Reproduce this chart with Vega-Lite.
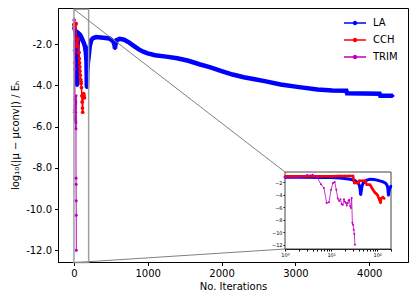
{
  "$schema": "https://vega.github.io/schema/vega-lite/v6.json",
  "width": 350,
  "height": 254,
  "autosize": "none",
  "padding": {"left": 58, "top": 8, "right": 8, "bottom": 40},
  "background": "white",
  "config": {
    "view": {"stroke": "black", "strokeWidth": 1},
    "font": "DejaVu Sans",
    "axis": {"grid": false, "domainColor": "black", "tickColor": "black", "labelColor": "black", "titleColor": "black", "labelFont": "DejaVu Sans", "titleFont": "DejaVu Sans", "labelFontSize": 10, "titleFontSize": 10, "titleFontWeight": "normal", "tickSize": 3.5, "labelPadding": 3, "domainWidth": 1, "tickWidth": 1}
  },
  "datasets": {
    "d": [
      {"s": "LA", "i": 1, "v": -1.2}, {"s": "LA", "i": 3, "v": -1.2}, {"s": "LA", "i": 6, "v": -1.22}, {"s": "LA", "i": 10, "v": -1.25}, {"s": "LA", "i": 16, "v": -1.3}, {"s": "LA", "i": 26, "v": -1.5}, {"s": "LA", "i": 33, "v": -1.75}, {"s": "LA", "i": 39, "v": -2.1}, {"s": "LA", "i": 42, "v": -2.7}, {"s": "LA", "i": 44, "v": -4.0}, {"s": "LA", "i": 47, "v": -2.6}, {"s": "LA", "i": 50, "v": -2.1}, {"s": "LA", "i": 58, "v": -1.7}, {"s": "LA", "i": 70, "v": -1.5}, {"s": "LA", "i": 85, "v": -1.55}, {"s": "LA", "i": 100, "v": -1.65}, {"s": "LA", "i": 130, "v": -1.9}, {"s": "LA", "i": 150, "v": -2.1}, {"s": "LA", "i": 162, "v": -2.4}, {"s": "LA", "i": 170, "v": -2.8}, {"s": "LA", "i": 176, "v": -4.1}, {"s": "LA", "i": 182, "v": -3.3}, {"s": "LA", "i": 190, "v": -2.9}, {"s": "LA", "i": 200, "v": -2.6}, {"s": "LA", "i": 215, "v": -2.1}, {"s": "LA", "i": 235, "v": -1.8}, {"s": "LA", "i": 260, "v": -1.7}, {"s": "LA", "i": 300, "v": -1.65}, {"s": "LA", "i": 400, "v": -1.68}, {"s": "LA", "i": 480, "v": -1.72}, {"s": "LA", "i": 530, "v": -1.85}, {"s": "LA", "i": 548, "v": -2.0}, {"s": "LA", "i": 556, "v": -2.2}, {"s": "LA", "i": 565, "v": -2.0}, {"s": "LA", "i": 580, "v": -1.8}, {"s": "LA", "i": 620, "v": -1.74}, {"s": "LA", "i": 680, "v": -1.78}, {"s": "LA", "i": 750, "v": -1.92}, {"s": "LA", "i": 820, "v": -2.1}, {"s": "LA", "i": 880, "v": -2.25}, {"s": "LA", "i": 940, "v": -2.36}, {"s": "LA", "i": 1000, "v": -2.44}, {"s": "LA", "i": 1100, "v": -2.53}, {"s": "LA", "i": 1250, "v": -2.6}, {"s": "LA", "i": 1400, "v": -2.68}, {"s": "LA", "i": 1550, "v": -2.8}, {"s": "LA", "i": 1700, "v": -2.97}, {"s": "LA", "i": 1850, "v": -3.12}, {"s": "LA", "i": 2000, "v": -3.3}, {"s": "LA", "i": 2150, "v": -3.47}, {"s": "LA", "i": 2300, "v": -3.6}, {"s": "LA", "i": 2450, "v": -3.7}, {"s": "LA", "i": 2600, "v": -3.8}, {"s": "LA", "i": 2800, "v": -3.95}, {"s": "LA", "i": 3050, "v": -4.08}, {"s": "LA", "i": 3300, "v": -4.2}, {"s": "LA", "i": 3500, "v": -4.25}, {"s": "LA", "i": 3690, "v": -4.26}, {"s": "LA", "i": 3700, "v": -4.38}, {"s": "LA", "i": 4140, "v": -4.4}, {"s": "LA", "i": 4150, "v": -4.5}, {"s": "LA", "i": 4320, "v": -4.5},
      {"s": "CCH", "i": 1, "v": -1.05}, {"s": "CCH", "i": 3, "v": -1.05}, {"s": "CCH", "i": 6, "v": -1.05}, {"s": "CCH", "i": 10, "v": -1.05}, {"s": "CCH", "i": 15, "v": -1.0}, {"s": "CCH", "i": 20, "v": -1.0}, {"s": "CCH", "i": 25, "v": -1.0}, {"s": "CCH", "i": 30, "v": -1.0}, {"s": "CCH", "i": 32, "v": -2.1}, {"s": "CCH", "i": 36, "v": -2.1}, {"s": "CCH", "i": 39, "v": -2.1}, {"s": "CCH", "i": 41, "v": -1.75}, {"s": "CCH", "i": 48, "v": -1.75}, {"s": "CCH", "i": 55, "v": -1.75}, {"s": "CCH", "i": 57, "v": -2.1}, {"s": "CCH", "i": 60, "v": -2.4}, {"s": "CCH", "i": 65, "v": -2.4}, {"s": "CCH", "i": 70, "v": -2.4}, {"s": "CCH", "i": 74, "v": -2.7}, {"s": "CCH", "i": 77, "v": -2.9}, {"s": "CCH", "i": 80, "v": -3.1}, {"s": "CCH", "i": 83, "v": -3.3}, {"s": "CCH", "i": 87, "v": -3.5}, {"s": "CCH", "i": 90, "v": -3.7}, {"s": "CCH", "i": 95, "v": -3.8}, {"s": "CCH", "i": 98, "v": -3.9}, {"s": "CCH", "i": 103, "v": -4.1}, {"s": "CCH", "i": 108, "v": -4.5}, {"s": "CCH", "i": 112, "v": -4.8}, {"s": "CCH", "i": 116, "v": -5.1}, {"s": "CCH", "i": 119, "v": -5.3}, {"s": "CCH", "i": 122, "v": -4.6}, {"s": "CCH", "i": 127, "v": -4.5}, {"s": "CCH", "i": 133, "v": -4.4}, {"s": "CCH", "i": 138, "v": -4.5}, {"s": "CCH", "i": 143, "v": -4.6},
      {"s": "TRIM", "i": 1, "v": -1.2}, {"s": "TRIM", "i": 2, "v": -1.2}, {"s": "TRIM", "i": 3, "v": -0.85}, {"s": "TRIM", "i": 4, "v": -0.8}, {"s": "TRIM", "i": 5, "v": -1.2}, {"s": "TRIM", "i": 6, "v": -2.3}, {"s": "TRIM", "i": 7, "v": -2.9}, {"s": "TRIM", "i": 8, "v": -5.3}, {"s": "TRIM", "i": 9, "v": -5.2}, {"s": "TRIM", "i": 10, "v": -3.2}, {"s": "TRIM", "i": 11, "v": -2.1}, {"s": "TRIM", "i": 12, "v": -1.95}, {"s": "TRIM", "i": 13, "v": -3.2}, {"s": "TRIM", "i": 14, "v": -4.6}, {"s": "TRIM", "i": 15, "v": -5.0}, {"s": "TRIM", "i": 16, "v": -4.7}, {"s": "TRIM", "i": 17, "v": -5.5}, {"s": "TRIM", "i": 18, "v": -5.6}, {"s": "TRIM", "i": 19, "v": -4.7}, {"s": "TRIM", "i": 20, "v": -5.1}, {"s": "TRIM", "i": 21, "v": -5.3}, {"s": "TRIM", "i": 22, "v": -5.7}, {"s": "TRIM", "i": 23, "v": -5.3}, {"s": "TRIM", "i": 24, "v": -4.9}, {"s": "TRIM", "i": 25, "v": -4.8}, {"s": "TRIM", "i": 26, "v": -5.8}, {"s": "TRIM", "i": 27, "v": -6.1}, {"s": "TRIM", "i": 28, "v": -4.5}, {"s": "TRIM", "i": 29, "v": -8.5}, {"s": "TRIM", "i": 30, "v": -8.8}, {"s": "TRIM", "i": 31, "v": -9.6}, {"s": "TRIM", "i": 32, "v": -10.3}, {"s": "TRIM", "i": 33, "v": -12.0}
    ]
  },
  "layer": [
    {
      "layer": [
        {
          "data": {"name": "d"},
          "encoding": {
            "x": {"field": "i", "type": "quantitative", "scale": {"domain": [-215, 4525], "nice": false, "zero": false}, "axis": {"values": [0, 1000, 2000, 3000, 4000], "format": "d", "title": "No. Iterations", "titlePadding": 3}},
            "y": {"field": "v", "type": "quantitative", "scale": {"domain": [-12.57, -0.24], "nice": false, "zero": false}, "axis": {"values": [-2, -4, -6, -8, -10, -12], "format": ".1f", "labelExpr": "replace(datum.label, '\u2212', '-')", "title": "log₁₀(|μ − μconv|) / Eₕ", "titlePadding": 5}},
            "color": {"field": "s", "type": "nominal", "scale": {"domain": ["LA", "CCH", "TRIM"], "range": ["#0000ff", "#ff0000", "#bf00bf"]}, "legend": {"title": null, "orient": "none", "legendX": 285, "legendY": 3, "symbolType": "M-1,0H1M-0.14,0A0.14,0.14 0 1,0 0.14,0A0.14,0.14 0 1,0 -0.14,0", "symbolSize": 484, "symbolStrokeWidth": 1.5, "labelFontSize": 10, "labelFont": "DejaVu Sans", "labelColor": "black", "rowPadding": -2, "labelOffset": 6, "padding": 0}}
          },
          "layer": [
            {"transform": [{"filter": "datum.s == 'LA'"}], "mark": {"type": "line", "strokeWidth": 4.5, "point": {"filled": true, "size": 10}}},
            {"transform": [{"filter": "datum.s == 'CCH'"}], "mark": {"type": "line", "strokeWidth": 1.5, "point": {"filled": true, "size": 14}}},
            {"transform": [{"filter": "datum.s == 'TRIM'"}], "mark": {"type": "line", "strokeWidth": 1, "point": {"filled": true, "size": 10}}}
          ]
        },
        {
          "data": {"values": [{}]},
          "mark": {"type": "rect", "filled": false, "stroke": "#a0a0a0", "strokeWidth": 1.5},
          "encoding": {
            "x": {"datum": 1, "type": "quantitative", "axis": {"values": [0, 1000, 2000, 3000, 4000], "format": "d", "title": "No. Iterations", "titlePadding": 3}},
            "x2": {"datum": 200},
            "y": {"datum": -12.6, "type": "quantitative", "axis": {"values": [-2, -4, -6, -8, -10, -12], "format": ".1f", "labelExpr": "replace(datum.label, '\u2212', '-')", "title": "log₁₀(|μ − μconv|) / Eₕ", "titlePadding": 5}},
            "y2": {"datum": -0.3}
          }
        },
        {
          "data": {"values": [{}]},
          "mark": {"type": "rule", "color": "#808080", "strokeWidth": 1},
          "encoding": {
            "x": {"datum": 1, "type": "quantitative", "axis": {"values": [0, 1000, 2000, 3000, 4000], "format": "d", "title": "No. Iterations", "titlePadding": 3}},
            "x2": {"datum": 2859},
            "y": {"datum": -0.3, "type": "quantitative", "axis": {"values": [-2, -4, -6, -8, -10, -12], "format": ".1f", "labelExpr": "replace(datum.label, '\u2212', '-')", "title": "log₁₀(|μ − μconv|) / Eₕ", "titlePadding": 5}},
            "y2": {"datum": -8.2}
          }
        },
        {
          "data": {"values": [{}]},
          "mark": {"type": "rule", "color": "#808080", "strokeWidth": 1},
          "encoding": {
            "x": {"datum": 1, "type": "quantitative", "axis": {"values": [0, 1000, 2000, 3000, 4000], "format": "d", "title": "No. Iterations", "titlePadding": 3}},
            "x2": {"datum": 2859},
            "y": {"datum": -12.6, "type": "quantitative", "axis": {"values": [-2, -4, -6, -8, -10, -12], "format": ".1f", "labelExpr": "replace(datum.label, '\u2212', '-')", "title": "log₁₀(|μ − μconv|) / Eₕ", "titlePadding": 5}},
            "y2": {"datum": -11.94}
          }
        }
      ]
    },
    {
      "layer": [
        {
          "data": {"values": [{}]},
          "mark": {"type": "rect", "fill": "white", "stroke": "#444444", "strokeWidth": 1},
          "encoding": {
            "x": {"datum": 1, "type": "quantitative", "scale": {"type": "log", "domain": [1, 200], "range": [227, 333], "nice": false}, "axis": {"orient": "bottom", "offset": -13, "values": [1, 2, 3, 4, 5, 6, 7, 8, 9, 10, 20, 30, 40, 50, 60, 70, 80, 90, 100, 200], "labelExpr": "datum.value == 1 ? '10⁰' : datum.value == 10 ? '10¹' : datum.value == 100 ? '10²' : ''", "labelFontSize": 5, "tickSize": 2, "labelPadding": 1, "title": null, "labelFlush": false, "labelOverlap": false, "labelBound": false}},
            "x2": {"datum": 200},
            "y": {"datum": -12.69, "type": "quantitative", "scale": {"domain": [-12.69, -0.35], "range": [241, 164], "nice": false, "zero": false}, "axis": {"orient": "left", "offset": -227, "values": [-2, -4, -6, -8, -10, -12], "labelFontSize": 5, "tickSize": 2, "labelPadding": 1, "title": null, "labelOverlap": false, "labelBound": false}},
            "y2": {"datum": -0.35}
          }
        },
        {
          "data": {"name": "d"},
          "transform": [{"filter": "datum.i <= 200"}],
          "encoding": {
            "x": {"field": "i", "type": "quantitative", "axis": {"orient": "bottom", "offset": -13, "values": [1, 2, 3, 4, 5, 6, 7, 8, 9, 10, 20, 30, 40, 50, 60, 70, 80, 90, 100, 200], "labelExpr": "datum.value == 1 ? '10⁰' : datum.value == 10 ? '10¹' : datum.value == 100 ? '10²' : ''", "labelFontSize": 5, "tickSize": 2, "labelPadding": 1, "title": null, "labelFlush": false, "labelOverlap": false, "labelBound": false}},
            "y": {"field": "v", "type": "quantitative", "axis": {"orient": "left", "offset": -227, "values": [-2, -4, -6, -8, -10, -12], "labelFontSize": 5, "tickSize": 2, "labelPadding": 1, "title": null, "labelOverlap": false, "labelBound": false}},
            "color": {"field": "s", "type": "nominal", "scale": {"domain": ["LA", "CCH", "TRIM"], "range": ["#0000ff", "#ff0000", "#bf00bf"]}, "legend": {"title": null, "orient": "none", "legendX": 285, "legendY": 3, "symbolType": "M-1,0H1M-0.14,0A0.14,0.14 0 1,0 0.14,0A0.14,0.14 0 1,0 -0.14,0", "symbolSize": 484, "symbolStrokeWidth": 1.5, "labelFontSize": 10, "labelFont": "DejaVu Sans", "labelColor": "black", "rowPadding": -2, "labelOffset": 6, "padding": 0}}
          },
          "layer": [
            {"transform": [{"filter": "datum.s == 'LA'"}], "mark": {"type": "line", "strokeWidth": 3, "point": {"filled": true, "size": 6}}},
            {"transform": [{"filter": "datum.s == 'CCH'"}], "mark": {"type": "line", "strokeWidth": 2.5, "point": {"filled": true, "size": 6}}},
            {"transform": [{"filter": "datum.s == 'TRIM'"}], "mark": {"type": "line", "strokeWidth": 0.8, "point": {"filled": true, "size": 4}}}
          ]
        }
      ]
    }
  ],
  "resolve": {"scale": {"x": "independent", "y": "independent"}}
}
